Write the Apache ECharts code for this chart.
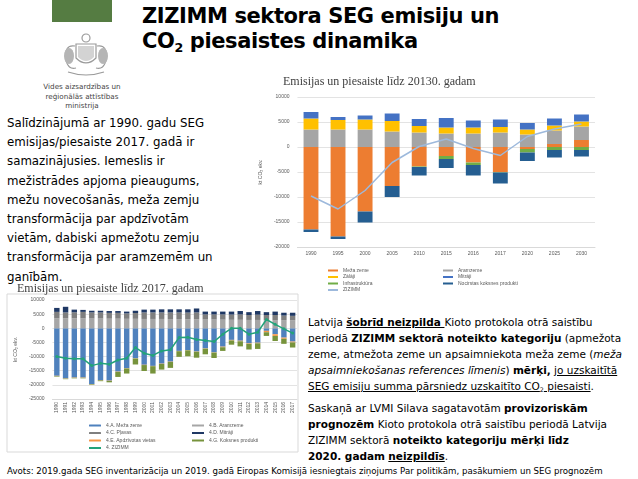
<!DOCTYPE html>
<html>
<head>
<meta charset="utf-8">
<script src="https://cdn.jsdelivr.net/npm/echarts@6/dist/echarts.min.js"></script>
<style>
  body { margin:0; width:638px; height:479px; position:relative; background:#fff; overflow:hidden; font-family:'DejaVu Sans', Verdana, sans-serif; color:#000; }
  .abs { position:absolute; }
  #logoBar { left:52px; top:0; width:60px; height:22px; background:#557c42; }
  #emblem { left:58px; top:30px; }
  #ministry { left:32px; top:82px; width:100px; text-align:center; font-size:7.2px; line-height:9.5px; color:#444; white-space:nowrap; }
  #title { left:142px; top:4px; font-weight:bold; font-size:21px; line-height:25px; letter-spacing:-0.4px; white-space:nowrap; }
  .sub { font-size:0.6em; position:relative; top:0.35em; }
  #leftText { left:7px; top:114px; font-size:11.8px; line-height:19.2px; white-space:nowrap; }
  #rightText { left:308px; top:314px; font-size:10.5px; line-height:16px; white-space:nowrap; }
  #rightText p { margin:0 0 4px 0; }
  #source { left:7px; top:466px; font-size:8.65px; line-height:10px; white-space:nowrap; }
  #chartTop { left:250px; top:70px; width:360px; height:230px; }
  #chartBottom { left:5px; top:278px; width:300px; height:180px; }
</style>
</head>
<body>
<div class="abs" id="logoBar"></div>
<svg class="abs" id="emblem" width="56" height="50" viewBox="0 0 56 50">
  <g fill="none" stroke="#9a9a9a" stroke-width="1.2">
    <circle cx="28" cy="8" r="4"/>
    <path d="M18 14 L38 14 L38 28 Q28 38 18 28 Z"/>
    <path d="M17 16 Q6 14 8 30 Q10 40 18 38"/>
    <path d="M39 16 Q50 14 48 30 Q46 40 38 38"/>
    <path d="M10 42 Q28 48 46 42"/>
  </g>
  <g fill="#b5b5b5">
    <ellipse cx="11" cy="26" rx="5" ry="8"/>
    <ellipse cx="45" cy="26" rx="5" ry="8"/>
    <path d="M20 16 L36 16 L36 27 Q28 35 20 27 Z" opacity="0.6"/>
  </g>
</svg>
<div class="abs" id="ministry">Vides aizsardzības un<br>reģionālās attīstības<br>ministrija</div>
<div class="abs" id="title">ZIZIMM sektora SEG emisiju un<br>CO<span class="sub">2</span> piesaistes dinamika</div>
<div class="abs" id="leftText">Salīdzinājumā ar 1990. gadu SEG<br>emisijas/piesaiste 2017. gadā ir<br>samazinājusies. Iemeslis ir<br>mežistrādes apjoma pieaugums,<br>mežu novecošanās, meža zemju<br>transformācija par apdzīvotām<br>vietām, dabiski apmežotu zemju<br>transformācija par aramzemēm un<br>ganībām.</div>
<div class="abs" id="rightText">
<p>Latvija <b><u>šobrīd neizpilda </u></b>Kioto protokola otrā saistību<br>periodā <b>ZIZIMM sektorā noteikto kategoriju</b> (apmežota<br>zeme, atmežota zeme un apsaimniekota meža zeme (<i>meža<br>apsaimniekošanas references līmenis</i>) <b>mērķi,</b> <u>jo uzskaitītā<br>SEG emisiju summa pārsniedz uzskaitīto CO<span class="sub">2</span> piesaisti</u>.</p>
<p>Saskaņā ar LVMI Silava sagatavotām <b>provizoriskām<br>prognozēm</b> Kioto protokola otrā saistību periodā Latvija<br>ZIZIMM sektorā <b>noteikto kategoriju mērķi līdz<br>2020. gadam</b> <b><u>neizpildīs</u></b>.</p>
</div>
<div class="abs" id="source">Avots: 2019.gada SEG inventarizācija un 2019. gadā Eiropas Komisijā iesniegtais ziņojums Par politikām, pasākumiem un SEG prognozēm</div>
<div class="abs" id="chartTop"></div>
<div class="abs" id="chartBottom"></div>
<script>
// top chart: emisijas un piesaiste līdz 2030
var years1 = ['1990', '1995', '2000', '2005', '2010', '2015', '2016', '2017', '2020', '2025', '2030'];
var mezaZeme1 = [-16500, -17900, -12900, -7800, -3900, -1800, -3100, -5000, -400, 600, 1400];
var aramzeme1 = [3500, 3500, 3500, 3100, 2900, 2700, 2700, 2900, 2500, 2700, 2700];
var zalaji1 = [2200, 1900, 2000, 2100, 1300, 1200, 1200, 1100, 1000, 1000, 1000];
var mitraji1 = [1300, 600, 800, 1500, 1400, 1900, 1400, 1500, 1300, 1400, 1400];
var infra1 = [0, 0, 0, 0, -100, -600, -500, -100, -700, -600, -600];
var koksne1 = [-500, -500, -2200, -2200, -1700, -1800, -2100, -2200, -1700, -1500, -1300];
var zizimm1 = [-9800, -12400, -8700, -3100, 100, 1600, -300, -1700, 2100, 3600, 4600];

// bottom chart: emisijas un piesaiste līdz 2017
var years2 = ['1990', '1991', '1992', '1993', '1994', '1995', '1996', '1997', '1998', '1999',
  '2000', '2001', '2002', '2003', '2004', '2005', '2006', '2007', '2008', '2009',
  '2010', '2011', '2012', '2013', '2014', '2015', '2016', '2017'];
var mezaZeme2 = [-16800, -17700, -17400, -17400, -19700, -18300, -18500, -15300, -14100, -10600,
  -12900, -13300, -12500, -11800, -8000, -7700, -8200, -7100, -8500, -6500,
  -4100, -4400, -5300, -5100, -900, -2100, -3300, -4700];
var aramzeme2 = [3500, 3500, 3500, 3500, 3450, 3450, 3400, 3400, 3350, 3350,
  3300, 3300, 3300, 3250, 3250, 3200, 3200, 3100, 3100, 3050,
  3000, 3000, 2950, 2950, 2900, 2900, 2900, 2850];
var plavas2 = [2300, 2100, 2150, 2300, 2150, 2150, 2050, 2050, 1900, 2050,
  2300, 2300, 2300, 2350, 2350, 2350, 2400, 1800, 1800, 1850,
  1850, 1900, 1750, 1850, 1800, 1800, 1600, 1550];
var mitraji2 = [1400, 2000, 950, 700, 600, 600, 650, 650, 650, 800,
  1000, 1000, 1100, 1100, 1100, 1150, 1400, 1000, 1000, 1000,
  1050, 1200, 1000, 1300, 1000, 1200, 1000, 1100];
var apdz2 = [-100, -100, -100, -100, -100, -100, -100, -100, -100, -100,
  -100, -100, -100, -100, -100, -100, -100, -100, -100, -200,
  -200, -200, -200, -200, -500, -600, -400, -300];
var koksne2 = [-200, -200, -200, -200, -200, -300, -500, -1800, -1800, -2100,
  -2100, -2600, -2000, -2100, -2000, -2100, -2100, -2000, -1900, -1300,
  -1500, -1800, -2000, -2000, -1300, -1800, -1800, -1800];
var zizimm2 = [-10000, -10600, -10800, -10800, -13200, -12400, -12700, -11200, -10600, -6800,
  -8800, -9600, -8000, -7600, -3300, -3200, -4000, -4300, -4700, -2100,
  0, 0, -2100, -1400, 3100, 1400, -200, -1700];

var tinyText = { fontSize: 5, color: '#595959', fontFamily: 'Liberation Sans' };

function bar(name, data, color, width) {
  return { name: name, type: 'bar', stack: 'all', data: data, barWidth: width,
    itemStyle: { color: color }, emphasis: { disabled: true } };
}

var topChart = echarts.init(document.getElementById('chartTop'));
topChart.setOption({
  animation: false,
  title: { text: 'Emisijas un piesaiste līdz 20130. gadam', left: 28, top: 1,
    textStyle: { fontFamily: 'Liberation Serif', fontSize: 12, fontWeight: 'normal', color: '#404040' } },
  legend: [
    { data: ['Meža zeme', 'Zālāji', 'Infrastruktūra', 'ZIZIMM'], orient: 'vertical', left: 73, top: 193,
      icon: 'rect', itemWidth: 10, itemHeight: 2, itemGap: 1.5, textStyle: tinyText },
    { data: ['Aramzeme', 'Mitrāji', 'Nocirstas koksnes produkti'], orient: 'vertical', left: 188, top: 193,
      icon: 'rect', itemWidth: 10, itemHeight: 2, itemGap: 1.5, textStyle: tinyText }
  ],
  grid: { left: 27, right: 15, top: 27, bottom: 53 },
  xAxis: { type: 'category', data: years1,
    axisLine: { onZero: false, lineStyle: { color: '#d9d9d9' } }, axisTick: { show: false },
    axisLabel: Object.assign({ margin: 4 }, tinyText) },
  yAxis: { type: 'value', min: -20000, max: 10000, interval: 5000,
    name: 'kt CO₂ ekv.', nameLocation: 'middle', nameGap: 22, nameTextStyle: tinyText,
    axisLabel: Object.assign({ formatter: function (v) { return String(v); } }, tinyText),
    splitLine: { lineStyle: { color: '#e3e3e3' } } },
  series: [
    bar('Meža zeme', mezaZeme1, '#ed7d31', '55%'),
    bar('Aramzeme', aramzeme1, '#a5a5a5', '55%'),
    bar('Zālāji', zalaji1, '#ffc000', '55%'),
    bar('Mitrāji', mitraji1, '#4472c4', '55%'),
    bar('Infrastruktūra', infra1, '#70ad47', '55%'),
    bar('Nocirstas koksnes produkti', koksne1, '#255e91', '55%'),
    { name: 'ZIZIMM', type: 'line', data: zizimm1, symbol: 'none', z: 5,
      itemStyle: { color: '#9db9dc' }, lineStyle: { color: '#9db9dc', width: 1.5 } }
  ]
});

var bottomChart = echarts.init(document.getElementById('chartBottom'));
bottomChart.setOption({
  animation: false,
  title: { text: 'Emisijas un piesaiste līdz 2017. gadam', left: 7, top: 0,
    textStyle: { fontFamily: 'Liberation Serif', fontSize: 12, fontWeight: 'normal', color: '#404040' } },
  graphic: [{ type: 'rect', shape: { x: 2, y: 16, width: 291, height: 158 }, silent: true,
    style: { fill: 'none', stroke: '#d9d9d9', lineWidth: 1 } }],
  legend: [
    { data: ['4.A. Meža zeme', '4.C. Pļavas', '4.E. Apdzīvotas vietas', '4. ZIZIMM'], orient: 'vertical', left: 78, top: 140,
      itemWidth: 12, itemHeight: 2, itemGap: 2.5, textStyle: tinyText },
    { data: ['4.B. Aramzeme', '4.D. Mitrāji', '4.G. Koksnes produkti'], orient: 'vertical', left: 182, top: 140,
      icon: 'rect', itemWidth: 12, itemHeight: 2, itemGap: 2.5, textStyle: tinyText }
  ],
  grid: { left: 42, right: 8, top: 22, bottom: 59 },
  xAxis: { type: 'category', data: years2,
    axisLine: { onZero: false, lineStyle: { color: '#d9d9d9' } }, axisTick: { show: false },
    axisLabel: Object.assign({ rotate: 90, margin: 3, interval: 0 }, tinyText) },
  yAxis: { type: 'value', min: -25000, max: 10000, interval: 5000,
    name: 'kt CO₂ ekv.', nameLocation: 'middle', nameGap: 27, nameTextStyle: tinyText,
    axisLabel: Object.assign({ formatter: function (v) { return String(v); } }, tinyText),
    splitLine: { lineStyle: { color: '#e3e3e3' } } },
  series: [
    bar('4.A. Meža zeme', mezaZeme2, '#4f81bd', '62%'),
    bar('4.B. Aramzeme', aramzeme2, '#a6a6a6', '62%'),
    bar('4.C. Pļavas', plavas2, '#7f7f7f', '62%'),
    bar('4.D. Mitrāji', mitraji2, '#1f3864', '62%'),
    bar('4.E. Apdzīvotas vietas', apdz2, '#f79646', '62%'),
    bar('4.G. Koksnes produkti', koksne2, '#77933c', '62%'),
    { name: '4. ZIZIMM', type: 'line', data: zizimm2, symbol: 'circle', symbolSize: 3, z: 5,
      itemStyle: { color: '#23a37a' }, lineStyle: { color: '#23a37a', width: 1.5 } }
  ]
});
</script>
</body>
</html>
